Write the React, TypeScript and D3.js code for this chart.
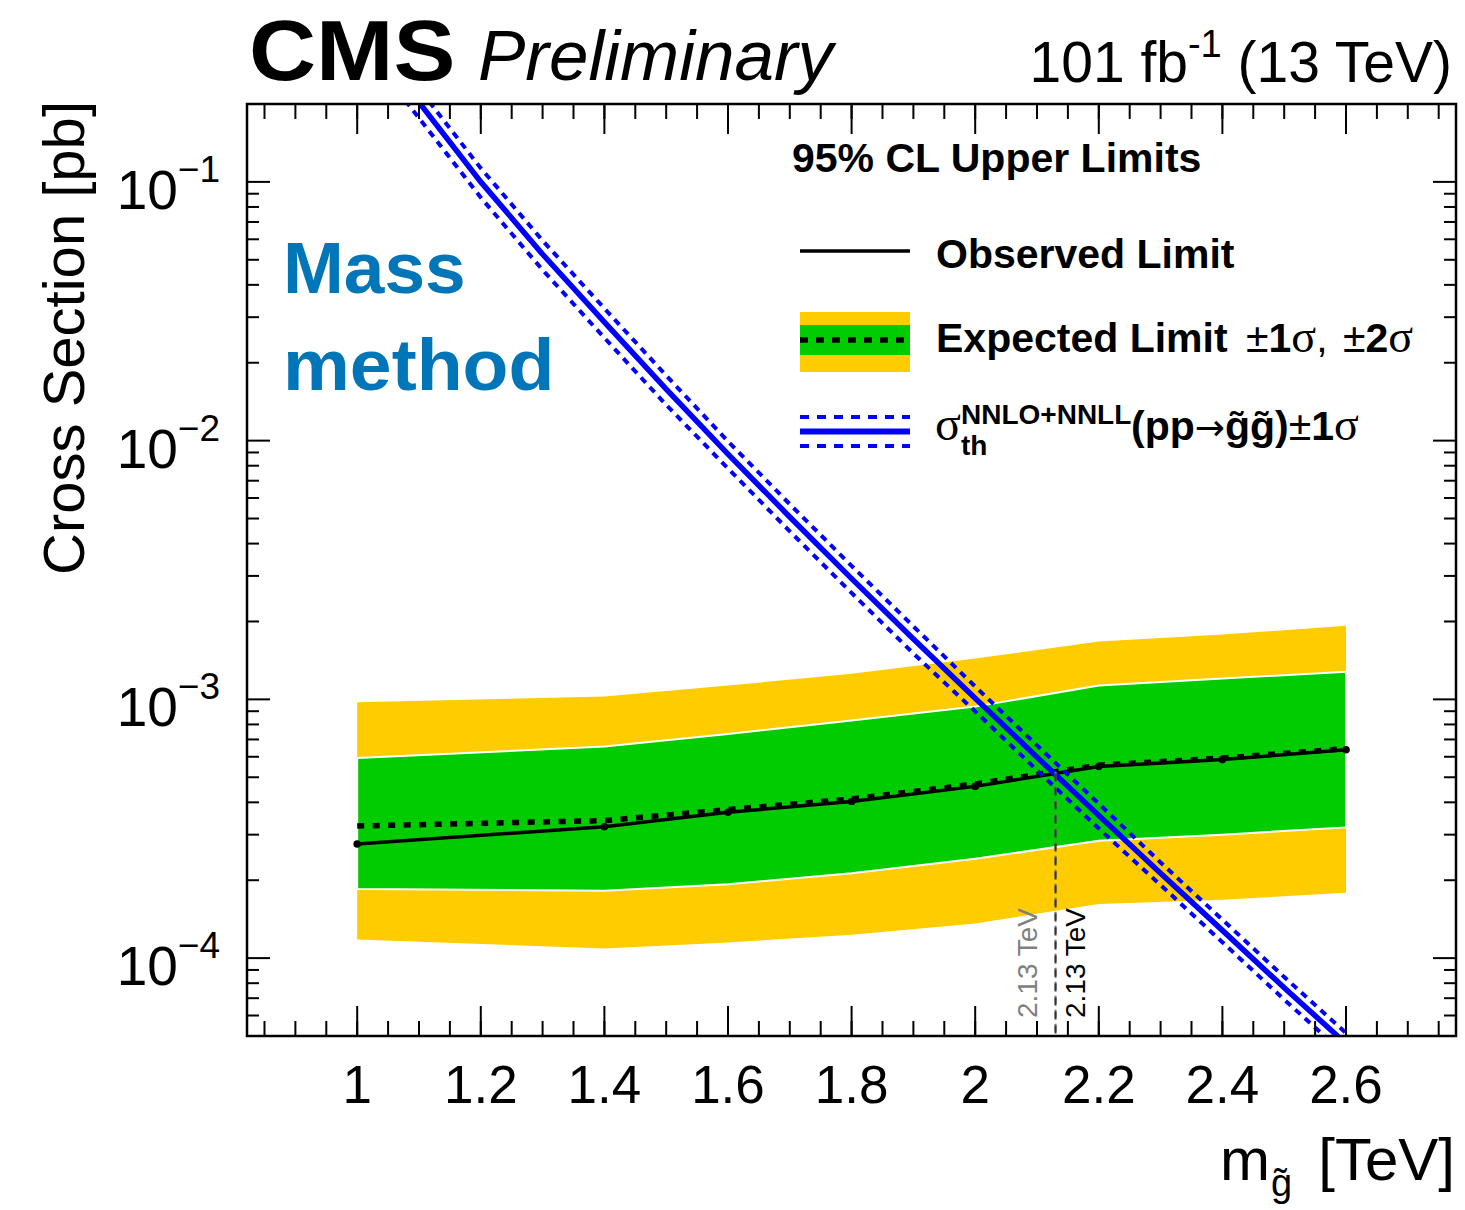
import React from "react";
import * as d3 from "d3";

// Gluino mass points (TeV) where the limits were evaluated
const masses = [1.0, 1.4, 1.6, 1.8, 2.0, 2.2, 2.4, 2.6];
// 95% CL upper limits on the cross section (pb)
const observed = [2.76e-4, 3.22e-4, 3.66e-4, 4.03e-4, 4.61e-4, 5.5e-4, 5.85e-4, 6.39e-4];
const expected = [3.24e-4, 3.4e-4, 3.75e-4, 4.12e-4, 4.71e-4, 5.57e-4, 5.93e-4, 6.45e-4];
const expPlus1 = [5.94e-4, 6.57e-4, 7.35e-4, 8.28e-4, 9.38e-4, 1.131e-3, 1.203e-3, 1.279e-3];
const expMinus1 = [1.85e-4, 1.82e-4, 1.93e-4, 2.13e-4, 2.42e-4, 2.84e-4, 3.0e-4, 3.2e-4];
const expPlus2 = [9.75e-4, 1.025e-3, 1.131e-3, 1.255e-3, 1.438e-3, 1.674e-3, 1.78e-3, 1.926e-3];
const expMinus2 = [1.18e-4, 1.09e-4, 1.15e-4, 1.23e-4, 1.36e-4, 1.62e-4, 1.68e-4, 1.79e-4];

// NNLO+NNLL gluino pair production cross section (pb) and its relative uncertainty (%)
const theoryMasses = [1.0, 1.1, 1.2, 1.3, 1.4, 1.5, 1.6, 1.7, 1.8, 1.9, 2.0, 2.1, 2.2, 2.3, 2.4, 2.5, 2.6, 2.7];
const theoryXsec = [
  0.41, 0.203, 0.1, 0.0525, 0.0287, 0.0158, 0.00887, 0.00507, 0.00293, 0.00171, 0.00101,
  0.000598, 0.000356, 0.000213, 0.000128, 0.0000768, 0.0000467, 0.0000283,
];
const theoryUncPct = [13, 13, 13, 13, 13, 13, 12, 12, 12, 12, 11, 11, 11, 10, 10, 10, 10, 10];

// Mass limits (TeV)
const expectedLimit = 2.13;
const observedLimit = 2.13;

const xTickLabels = ["1", "1.2", "1.4", "1.6", "1.8", "2", "2.2", "2.4", "2.6"];
const yDecades = [-4, -3, -2, -1];

const SANS = '"Liberation Sans", Arial, Helvetica, sans-serif';
const SERIF = '"Liberation Serif", "Times New Roman", serif';
const SYMBOL = '"DejaVu Sans", sans-serif';

const X0 = 247;
const X1 = 1456;

export default function App() {
  const x = d3.scaleLinear().domain([0.8217, 2.778]).range([X0, X1]);
  const y = d3.scaleLog().domain([5e-5, 0.2]).range([1036, 104]);
  const Y0 = y(0.2);
  const Y1 = y(5e-5);

  const band = (lo: number[], hi: number[]) =>
    d3
      .area<number>()
      .x((_, i) => x(masses[i]))
      .y0((_, i) => y(lo[i]))
      .y1((_, i) => y(hi[i]))(masses.map((_, i) => i)) || "";

  const series = (vals: number[]) =>
    d3
      .line<number>()
      .x((_, i) => x(masses[i]))
      .y((d) => y(d))(vals) || "";

  const theoryLine = (scale: number) =>
    d3
      .line<number>()
      .x((_, i) => x(theoryMasses[i]))
      .y((d, i) => y(d * (1 + (scale * theoryUncPct[i]) / 100)))(theoryXsec) || "";

  // limit value at the crossing, interpolated in log space
  const limitAt = (vals: number[], m: number) => {
    const i = d3.bisectRight(masses, m) - 1;
    const t = (m - masses[i]) / (masses[i + 1] - masses[i]);
    return Math.pow(10, Math.log10(vals[i]) * (1 - t) + Math.log10(vals[i + 1]) * t);
  };

  const xMajor = d3.range(0, 9).map((i) => 1 + 0.2 * i);
  const xMinor = d3.range(0, 40).map((i) => 0.85 + 0.05 * i).filter((v) => v < 2.778);
  const yMinor: number[] = [];
  for (let e = -5; e <= -1; e++) {
    for (let k = 2; k <= 9; k++) {
      const v = k * Math.pow(10, e);
      if (v >= 5e-5 && v <= 0.2) yMinor.push(v);
    }
  }

  const legendX0 = 800;
  const legendX1 = 910;
  const LF = 41;

  return (
    <svg
      width={1465}
      height={1210}
      style={{ position: "absolute", left: 0, top: 0, background: "#fff" }}
      fontFamily={SANS}
    >
      <defs>
        <clipPath id="plotArea">
          <rect x={X0} y={Y0} width={X1 - X0} height={Y1 - Y0} />
        </clipPath>
      </defs>

      <g clipPath="url(#plotArea)">
        <path d={band(expMinus2, expPlus2)} fill="#ffcc00" />
        <path d={band(expMinus1, expPlus1)} fill="#00cc00" stroke="#fff" strokeWidth={2} />
        <path d={series(expected)} fill="none" stroke="#000" strokeWidth={5.5} strokeDasharray="7 8.5" />
        <path d={series(observed)} fill="none" stroke="#000" strokeWidth={3.5} />
        {observed.map((v, i) => (
          <circle key={i} cx={x(masses[i])} cy={y(v)} r={3.8} fill="#000" />
        ))}
        <path d={theoryLine(1)} fill="none" stroke="#0000ff" strokeWidth={4} strokeDasharray="7 6" />
        <path d={theoryLine(-1)} fill="none" stroke="#0000ff" strokeWidth={4} strokeDasharray="7 6" />
        <path d={theoryLine(0)} fill="none" stroke="#0000ff" strokeWidth={5.5} />
        <line
          x1={x(expectedLimit)}
          x2={x(expectedLimit)}
          y1={y(limitAt(expected, expectedLimit))}
          y2={Y1}
          stroke="#777"
          strokeWidth={2}
          strokeDasharray="8 6"
        />
        <line
          x1={x(observedLimit)}
          x2={x(observedLimit)}
          y1={y(limitAt(observed, observedLimit))}
          y2={Y1}
          stroke="#333"
          strokeWidth={2}
          strokeDasharray="8 6"
        />
      </g>

      {/* limit annotations */}
      <text
        transform={`translate(${x(expectedLimit) - 19},1018) rotate(-90)`}
        fontSize={28}
        fill="#808080"
      >
        {`${expectedLimit} TeV`}
      </text>
      <text
        transform={`translate(${x(observedLimit) + 29},1018) rotate(-90)`}
        fontSize={28}
        fill="#000"
      >
        {`${observedLimit} TeV`}
      </text>

      {/* Method label */}
      <text x={283} y={293} fontSize={73} fontWeight="bold" fill="#0076b9">
        Mass
      </text>
      <text transform="translate(283,390) scale(1.03,1)" fontSize={73} fontWeight="bold" fill="#0076b9">
        method
      </text>

      {/* Legend */}
      <text x={792} y={172} fontSize={LF} fontWeight="bold">
        95% CL Upper Limits
      </text>
      <line x1={legendX0} x2={legendX1} y1={251} y2={251} stroke="#000" strokeWidth={3.5} />
      <text x={936} y={268} fontSize={LF} fontWeight="bold">
        Observed Limit
      </text>

      <rect x={legendX0} y={312} width={legendX1 - legendX0} height={60} fill="#ffcc00" />
      <rect x={legendX0} y={325} width={legendX1 - legendX0} height={30} fill="#00cc00" />
      <line x1={legendX0} x2={legendX1} y1={340} y2={340} stroke="#000" strokeWidth={5.5} strokeDasharray="8 8" />
      <text x={936} y={352} fontSize={LF} fontWeight="bold">
        Expected Limit
      </text>
      <text x={1246} y={352} fontSize={LF}>
        <tspan>±</tspan>
        <tspan fontWeight="bold">1</tspan>
        <tspan fontFamily={SERIF} fontSize={46}>σ</tspan>
        <tspan>,</tspan>
      </text>
      <text x={1343} y={352} fontSize={LF}>
        <tspan>±</tspan>
        <tspan fontWeight="bold">2</tspan>
        <tspan fontFamily={SERIF} fontSize={46}>σ</tspan>
      </text>

      <line x1={legendX0} x2={legendX1} y1={417} y2={417} stroke="#0000ff" strokeWidth={4} strokeDasharray="9 8" />
      <line x1={legendX0} x2={legendX1} y1={431.5} y2={431.5} stroke="#0000ff" strokeWidth={6} />
      <line x1={legendX0} x2={legendX1} y1={446} y2={446} stroke="#0000ff" strokeWidth={4} strokeDasharray="9 8" />
      <text x={935} y={440} fontSize={48} fontFamily={SERIF}>
        σ
      </text>
      <text x={961} y={424} fontSize={28} fontWeight="bold">
        NNLO+NNLL
      </text>
      <text x={961} y={455} fontSize={28} fontWeight="bold">
        th
      </text>
      <text x={1131} y={440} fontSize={LF} fontWeight="bold">
        <tspan>(pp</tspan>
        <tspan fontFamily={SYMBOL} fontWeight="normal" fontSize={36}>→</tspan>
        <tspan>g̃g̃)</tspan>
        <tspan fontWeight="normal">±</tspan>
        <tspan>1</tspan>
        <tspan fontFamily={SERIF} fontWeight="normal" fontSize={46}>σ</tspan>
      </text>

      {/* Frame */}
      <rect x={X0} y={Y0} width={X1 - X0} height={Y1 - Y0} fill="none" stroke="#000" strokeWidth={2.5} />

      {/* X ticks, bottom and top */}
      {xMajor.map((v, i) => (
        <g key={`xM${i}`} stroke="#000" strokeWidth={2}>
          <line x1={x(v)} x2={x(v)} y1={Y1} y2={Y1 - 30} />
          <line x1={x(v)} x2={x(v)} y1={Y0} y2={Y0 + 30} />
        </g>
      ))}
      {xMinor.map((v, i) => (
        <g key={`xm${i}`} stroke="#000" strokeWidth={2}>
          <line x1={x(v)} x2={x(v)} y1={Y1} y2={Y1 - 15} />
          <line x1={x(v)} x2={x(v)} y1={Y0} y2={Y0 + 15} />
        </g>
      ))}
      {xMajor.map((v, i) => (
        <text key={`xl${i}`} x={x(v)} y={1103} fontSize={53} textAnchor="middle">
          {xTickLabels[i]}
        </text>
      ))}

      {/* Y ticks, left and right */}
      {yDecades.map((e) => {
        const yy = y(Math.pow(10, e));
        return (
          <g key={`yM${e}`}>
            <line x1={X0} x2={X0 + 23} y1={yy} y2={yy} stroke="#000" strokeWidth={2} />
            <line x1={X1} x2={X1 - 23} y1={yy} y2={yy} stroke="#000" strokeWidth={2} />
            <text x={220} y={yy + 27} fontSize={55} textAnchor="end">
              10
              <tspan dy={-27} fontSize={37}>
                {`\u2212${-e}`}
              </tspan>
            </text>
          </g>
        );
      })}
      {yMinor.map((v, i) => (
        <g key={`ym${i}`} stroke="#000" strokeWidth={2}>
          <line x1={X0} x2={X0 + 12} y1={y(v)} y2={y(v)} />
          <line x1={X1} x2={X1 - 12} y1={y(v)} y2={y(v)} />
        </g>
      ))}

      {/* Axis titles */}
      <text transform="translate(84,101) rotate(-90)" fontSize={58} textAnchor="end">
        Cross Section [pb]
      </text>
      <text x={1220} y={1180} fontSize={60}>
        m
      </text>
      <text x={1271} y={1196} fontSize={38}>
        g̃
      </text>
      <text x={1455} y={1180} fontSize={60} textAnchor="end">
        [TeV]
      </text>

      {/* Header */}
      <text transform="translate(249,80) scale(1.08,1)" fontSize={86} fontWeight="bold">
        CMS
      </text>
      <text x={478} y={80} fontSize={71} fontStyle="italic">
        Preliminary
      </text>
      <text x={1452} y={82} fontSize={57} textAnchor="end">
        101 fb
        <tspan dy={-25} fontSize={38}>
          -1
        </tspan>
        <tspan dy={25}> (13 TeV)</tspan>
      </text>
    </svg>
  );
}
